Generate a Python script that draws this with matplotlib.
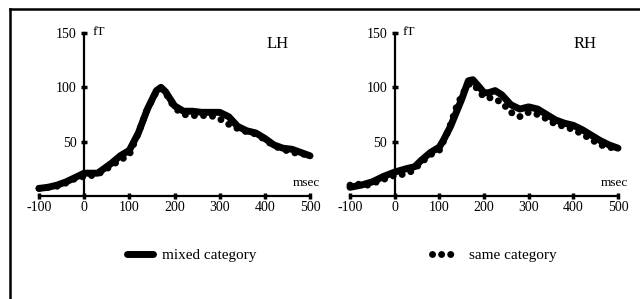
import numpy as np
import matplotlib
matplotlib.use("Agg")
import matplotlib.pyplot as plt
from matplotlib.lines import Line2D

plt.rcParams['font.family'] = ['Liberation Serif', 'DejaVu Serif']
plt.rcParams['axes.unicode_minus'] = False

# ---------------- data ----------------
# LH, mixed category (solid line), msec / fT
lh_mixed_t = [-100, -80, -60, -40, -20, 0, 20, 30, 40, 60, 80, 100, 120, 140, 160, 170, 180,
              200, 220, 240, 260, 280, 300, 320, 340, 360, 380, 400, 420, 440, 460, 480, 500]
lh_mixed_v = [7, 8, 10, 13, 17, 21, 21, 21, 24, 30, 37, 42, 58, 80, 97, 100, 96,
              83, 78, 78, 77, 77, 77, 73, 64, 60, 58, 53, 47, 44, 43, 40, 37]

# LH, same category (dotted line)
lh_same_t = [-100, -80, -60, -40, -20, 0, 20, 40, 60, 80, 100, 120, 140, 160, 170, 180,
             200, 220, 240, 260, 280, 300, 320, 340, 360, 380, 400, 420, 440, 460, 480, 500]
lh_same_v = [7, 8, 9, 12, 16, 18, 19, 22, 28, 33, 38, 58, 80, 96, 99, 95,
             81, 75, 74, 74, 74, 71, 66, 62, 59, 57, 52, 46, 43, 40, 39, 37]

# RH, mixed category
rh_mixed_t = [-100, -75, -50, -25, 0, 25, 45, 60, 80, 100, 110, 125, 150, 165, 175, 190,
              200, 210, 225, 240, 260, 280, 300, 320, 340, 360, 380, 400, 420, 440, 460, 480, 500]
rh_mixed_v = [8, 10, 13, 18, 22, 25, 27, 33, 40, 45, 52, 64, 89, 106, 107, 100,
              95, 95, 97, 93, 84, 80, 82, 80, 75, 70, 67, 65, 61, 56, 51, 47, 44]

# RH, same category
rh_same_t = [-100, -90, -80, -60, -40, -20, 0, 20, 40, 60, 80, 100, 120, 140, 160, 170, 180,
             200, 220, 240, 260, 280, 300, 320, 340, 360, 380, 400, 420, 440, 460, 480, 500]
rh_same_v = [10, 9, 11, 10, 13, 16, 19, 20, 23, 31, 38, 42, 60, 84, 100, 104, 101,
             91, 90, 86, 77, 73, 77, 75, 71, 66, 64, 61, 57, 52, 47, 45, 43]

x_ticks = [-100, 0, 100, 200, 300, 400, 500]
y_ticks = [50, 100, 150]

W, H = 640, 299
fig = plt.figure(figsize=(W / 100, H / 100), dpi=100)

# outer frame: only left and top edges are visible
fig.add_artist(Line2D([10 / W, 10 / W], [0, 1 - 9 / H], transform=fig.transFigure,
                      color='black', lw=1.8))
fig.add_artist(Line2D([10 / W, 1], [1 - 9 / H, 1 - 9 / H], transform=fig.transFigure,
                      color='black', lw=1.8))


def panel(rect, t_mix, v_mix, t_same, v_same, name):
    ax = fig.add_axes(rect)
    l_mix, = ax.plot(t_mix, v_mix, color='black', lw=5, solid_capstyle='round',
                     solid_joinstyle='round', clip_on=False, label='mixed category')
    l_same, = ax.plot(t_same, v_same, color='black', lw=5,
                      linestyle=(0, (0.01, 1.3)), dash_capstyle='round',
                      clip_on=False, label='same category')
    ax.set_xlim(-100, 500)
    ax.set_ylim(0, 150)
    ax.spines['left'].set_position(('data', 0))
    ax.spines['bottom'].set_position(('data', 0))
    ax.spines['right'].set_visible(False)
    ax.spines['top'].set_visible(False)
    for s in ('left', 'bottom'):
        ax.spines[s].set_linewidth(1.6)
    ax.set_xticks(x_ticks)
    ax.set_yticks(y_ticks)
    ax.tick_params(axis='x', direction='inout', length=4, width=2.5, pad=1.5, labelsize=10)
    ax.tick_params(axis='y', direction='inout', length=5, width=2.5, pad=3, labelsize=10)
    ax.annotate('fT', xy=(0, 150), xytext=(6, 1), textcoords='offset points',
                ha='left', va='center', fontsize=9.5)
    ax.annotate('msec', xy=(500, 0), xytext=(7, 5), textcoords='offset points',
                ha='right', va='bottom', fontsize=9.5)
    ax.text(0.92, 0.93, name, transform=ax.transAxes, ha='right', va='center', fontsize=12)
    ax.patch.set_visible(False)
    return ax, l_mix, l_same


ax1, m1, s1 = panel([39 / W, 1 - 196 / H, 271 / W, 163 / H],
                    lh_mixed_t, lh_mixed_v, lh_same_t, lh_same_v, 'LH')
ax2, m2, s2 = panel([350 / W, 1 - 196 / H, 268 / W, 163 / H],
                    rh_mixed_t, rh_mixed_v, rh_same_t, rh_same_v, 'RH')

ax1.legend(handles=[m1], loc='center left', bbox_to_anchor=((127 - 39) / 271, -0.362),
           frameon=False, fontsize=11, handlelength=1.7, handletextpad=0.6,
           borderpad=0, borderaxespad=0)
ax2.legend(handles=[s2], loc='center left', bbox_to_anchor=((432 - 350) / 268, -0.362),
           frameon=False, fontsize=11, handlelength=1.7, handletextpad=0.7,
           borderpad=0, borderaxespad=0)

fig.savefig('out.png', dpi=100)
